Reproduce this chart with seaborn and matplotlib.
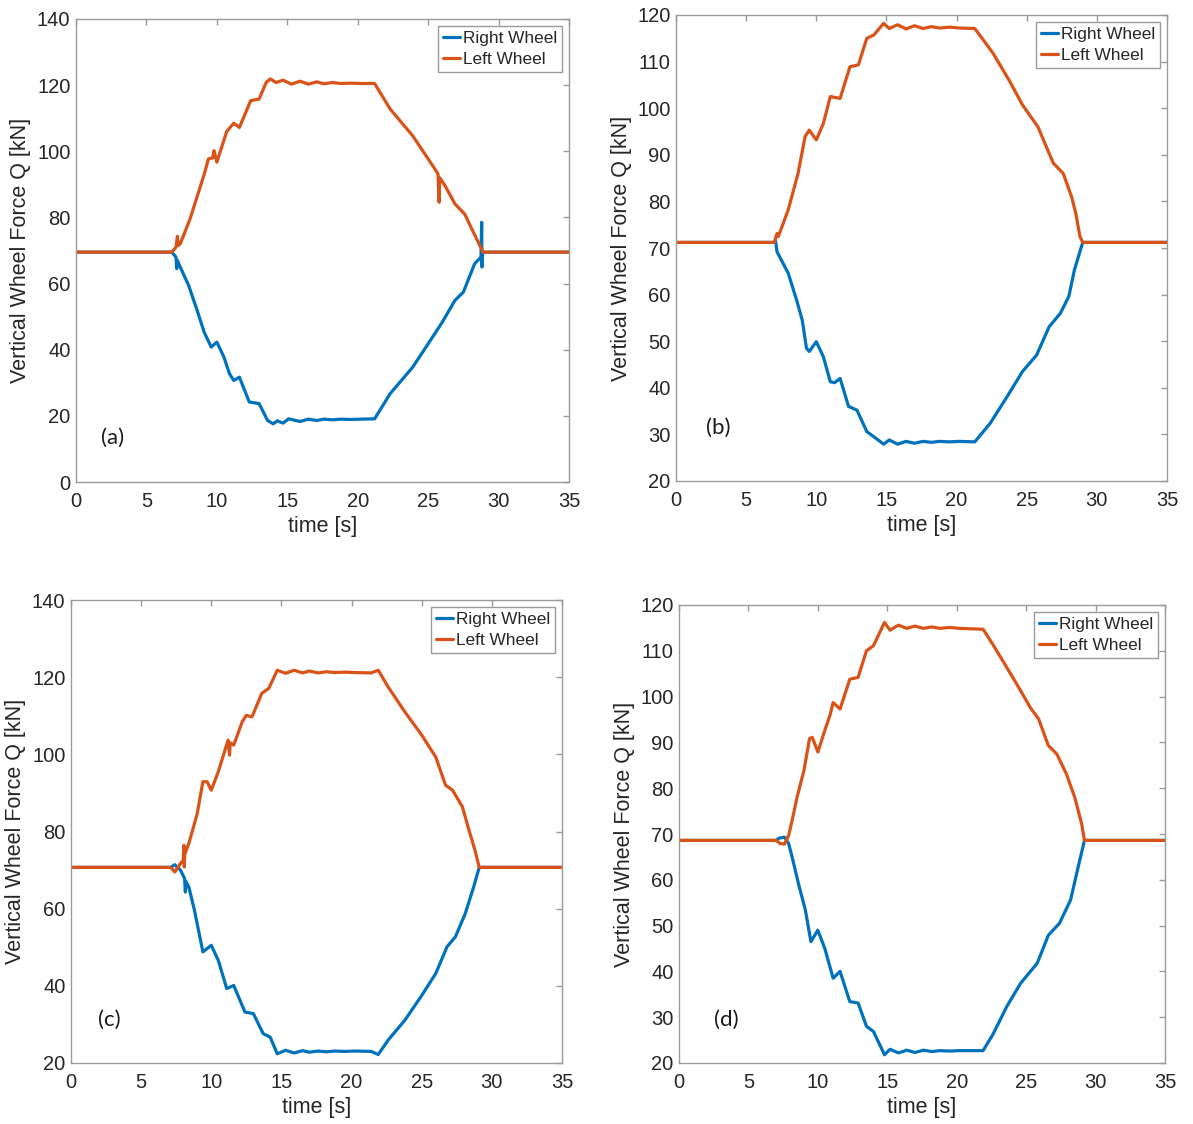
import numpy as np
import pandas as pd
import matplotlib
matplotlib.use("Agg")
import matplotlib.pyplot as plt
import seaborn as sns

# ---------------- data ----------------
# Panel (a)
t_a_right = [0, 6.8, 7.1, 7.15, 7.2, 7.4, 8.0, 8.6, 9.1, 9.6, 10.0, 10.5, 10.9, 11.2, 11.6, 12.3, 13.0, 13.6, 14.0, 14.3,
             14.7, 15.1, 15.9, 16.5, 17.1, 17.6, 18.2, 18.8, 19.5, 20.2, 21.2, 22.3, 23.9, 25.0, 26.0, 26.9, 27.5, 28.3,
             28.75, 28.8, 28.82, 28.85, 28.9, 35]
q_a_right = [69.5, 69.5, 68, 64.5, 67, 65, 59.4, 51.9, 45.3, 40.8, 42.3, 37.8, 32.7, 30.7, 31.7, 24.2, 23.7, 18.6, 17.6, 18.5,
             17.8, 19.1, 18.3, 19.0, 18.6, 19.0, 18.8, 19.0, 18.9, 19.0, 19.1, 26.7, 34.7, 41.8, 48.3, 54.9, 57.4, 66,
             68, 78.5, 65, 68.5, 69.5, 69.5]
t_a_left = [0, 6.8, 7.1, 7.2, 7.25, 7.4, 8.1, 9.1, 9.4, 9.7, 9.8, 10.0, 10.7, 11.2, 11.6, 12.4, 13.0, 13.5, 13.8, 14.2, 14.7,
            15.3, 15.9, 16.5, 17.1, 17.6, 18.2, 18.8, 19.5, 20.2, 21.2, 22.3, 23.9, 25.0, 25.7, 25.78, 25.82, 26.2, 26.9,
            27.6, 28.1, 28.5, 28.9, 35]
q_a_left = [69.5, 69.5, 71, 74.3, 71.5, 72, 79.6, 93, 97.7, 98, 100.2, 96.7, 106, 108.5, 107.2, 115.3, 115.8, 120.8, 121.9,
            120.8, 121.5, 120.3, 121.2, 120.3, 121, 120.4, 120.8, 120.5, 120.6, 120.5, 120.5, 112.8, 104.7, 97.7, 93.2,
            84.6, 92, 89.6, 84.1, 81, 76.5, 73, 69.5, 69.5]

# Panel (b)
t_b_right = [0, 7.0, 7.1, 7.2, 8.0, 8.6, 9.0, 9.3, 9.5, 10.0, 10.5, 11.0, 11.3, 11.7, 12.3, 12.9, 13.6, 14.1, 14.8, 15.2,
             15.8, 16.4, 17.0, 17.6, 18.2, 18.8, 19.5, 20.2, 21.3, 22.4, 23.6, 24.7, 25.7, 26.6, 27.4, 28.0, 28.4, 28.9,
             29.0, 35]
q_b_right = [71.2, 71.2, 71.5, 69.2, 64.6, 58.8, 54.5, 48.5, 47.8, 49.9, 46.7, 41.3, 41.1, 42, 36, 35.2, 30.6, 29.5, 27.9,
             28.8, 27.9, 28.5, 28.1, 28.5, 28.3, 28.5, 28.4, 28.5, 28.4, 32.4, 38.1, 43.5, 47, 53.1, 56, 59.6, 65.3,
             70.3, 71.2, 71.2]
t_b_left = [0, 7.0, 7.2, 7.3, 8.0, 8.7, 9.2, 9.5, 10.0, 10.5, 11.0, 11.7, 12.4, 13.0, 13.6, 14.1, 14.8, 15.2, 15.8, 16.4,
            17.0, 17.6, 18.2, 18.8, 19.5, 20.2, 21.3, 22.6, 23.8, 24.7, 25.8, 26.4, 26.9, 27.6, 28.2, 28.5, 28.8, 29.0, 35]
q_b_left = [71.2, 71.2, 73.1, 72.5, 78.2, 86, 93.9, 95.3, 93.2, 96.7, 102.5, 102.1, 108.9, 109.3, 115, 115.7, 118.2, 117.1,
            117.9, 117.0, 117.7, 117.1, 117.5, 117.2, 117.4, 117.2, 117.1, 111.8, 105.7, 100.7, 96, 91.7, 88.2, 86, 81,
            77.4, 72.4, 71.2, 71.2]

# Panel (c)
t_c_right = [0, 7.1, 7.4, 7.8, 8.1, 8.15, 8.2, 8.4, 8.8, 9.4, 10.0, 10.5, 11.1, 11.6, 12.4, 13.0, 13.7, 14.2, 14.7, 15.3,
             15.9, 16.5, 17.0, 17.6, 18.2, 18.8, 19.5, 20.2, 21.4, 21.9, 22.6, 23.8, 25.0, 26.0, 26.8, 27.4, 28.1, 28.7,
             29.1, 35]
q_c_right = [70.7, 70.7, 71.4, 70, 67.8, 64.3, 67, 65.6, 59.6, 48.8, 50.5, 46.6, 39.3, 40.1, 33.2, 32.8, 27.6, 26.7, 22.4,
             23.3, 22.6, 23.2, 22.8, 23.1, 22.9, 23.1, 23.0, 23.1, 23.0, 22.2, 25.9, 31.1, 37.5, 43.2, 50.1, 52.7, 58.7,
             65.6, 70.7, 70.7]
t_c_left = [0, 7.1, 7.4, 7.8, 8.0, 8.05, 8.08, 8.1, 8.4, 9.0, 9.4, 9.7, 10.0, 10.5, 10.9, 11.2, 11.3, 11.35, 11.6, 12.2,
            12.5, 12.9, 13.6, 14.1, 14.7, 15.3, 15.9, 16.5, 17.0, 17.6, 18.2, 18.8, 19.5, 20.2, 21.4, 21.9, 22.6, 23.8,
            25.0, 26.0, 26.7, 27.2, 27.9, 28.3, 28.8, 29.1, 35]
q_c_left = [70.7, 70.7, 69.5, 71.7, 72.5, 76.4, 70.8, 74, 76.9, 84.7, 92.9, 92.9, 90.7, 95.5, 100.2, 103.7, 99.8, 103,
            102.4, 108.4, 110.1, 109.7, 115.8, 117.1, 121.8, 121, 121.8, 121.1, 121.6, 121.1, 121.4, 121.2, 121.3,
            121.2, 121.1, 121.8, 117.5, 111, 105, 99.3, 92, 90.7, 86.4, 81.2, 75.1, 70.7, 70.7]

# Panel (d)
t_d_right = [0, 7.0, 7.2, 7.6, 7.9, 8.2, 8.6, 9.1, 9.5, 10.0, 10.5, 11.1, 11.6, 12.3, 12.9, 13.5, 14.0, 14.8, 15.2, 15.8,
             16.4, 17.0, 17.6, 18.2, 18.8, 19.5, 20.2, 21.9, 22.6, 23.6, 24.6, 25.8, 26.6, 27.4, 28.2, 28.8, 29.2, 35]
q_d_right = [68.6, 68.6, 69.1, 69.3, 67.9, 64.3, 59.2, 53.4, 46.5, 49, 45, 38.5, 40, 33.4, 33.1, 28, 26.9, 21.8, 23, 22.2,
             22.8, 22.3, 22.8, 22.5, 22.7, 22.6, 22.7, 22.7, 26.2, 32.3, 37.4, 41.8, 47.9, 50.5, 55.6, 63.5, 68.6, 68.6]
t_d_left = [0, 7.0, 7.3, 7.6, 7.9, 8.2, 8.5, 9.0, 9.4, 9.6, 10.0, 10.5, 10.9, 11.1, 11.6, 12.3, 12.9, 13.5, 14.0, 14.8,
            15.2, 15.8, 16.4, 17.0, 17.6, 18.2, 18.8, 19.5, 20.2, 21.9, 22.6, 23.6, 24.6, 25.3, 25.9, 26.6, 27.2, 27.9,
            28.5, 29.0, 29.2, 35]
q_d_left = [68.6, 68.6, 67.9, 67.8, 69.7, 73.7, 78, 83.9, 90.8, 91.1, 87.9, 92.6, 96.2, 98.7, 97.3, 103.8, 104.2, 110,
            111.1, 116.2, 114.5, 115.6, 114.9, 115.4, 114.9, 115.2, 114.9, 115.1, 114.9, 114.7, 111.4, 106.4, 101.3,
            97.6, 95.1, 89.3, 87.5, 83.1, 78, 72.2, 68.6, 68.6]

series_names = ["Right Wheel", "Left Wheel"]
panel_labels = ["(a)", "(b)", "(c)", "(d)"]
y_limits = [(0, 140), (20, 120), (20, 140), (20, 120)]
y_steps = [20, 10, 20, 10]
x_ticks = [0, 5, 10, 15, 20, 25, 30, 35]
x_label = "time [s]"
y_label = "Vertical Wheel Force Q [kN]"

panels = [
    (t_a_right, q_a_right, t_a_left, q_a_left),
    (t_b_right, q_b_right, t_b_left, q_b_left),
    (t_c_right, q_c_right, t_c_left, q_c_left),
    (t_d_right, q_d_right, t_d_left, q_d_left),
]

# ---------------- style ----------------
sns.set_theme(style="white")
plt.rcParams["font.family"] = ["Liberation Sans", "DejaVu Sans"]
text_col = "#262626"
spine_col = "#9a9a9a"
palette = {"Right Wheel": "#0072BD", "Left Wheel": "#D95319"}

fig = plt.figure(figsize=(11.93, 11.24), dpi=100)
W, H = 1193, 1124
boxes_px = [(76, 19, 569, 482), (676, 15, 1167, 481), (71, 600, 562, 1063), (679, 605, 1165, 1063)]
label_pos = [(0.075, 0.095), (0.086, 0.114), (0.079, 0.093), (0.097, 0.094)]

for i, (tr, qr, tl, ql) in enumerate(panels):
    l, t, r, b = boxes_px[i]
    ax = fig.add_axes([l / W, 1 - b / H, (r - l) / W, (b - t) / H])
    df = pd.concat([
        pd.DataFrame({"time": tr, "Q": qr, "wheel": series_names[0]}),
        pd.DataFrame({"time": tl, "Q": ql, "wheel": series_names[1]}),
    ], ignore_index=True)
    sns.lineplot(data=df, x="time", y="Q", hue="wheel", hue_order=series_names, palette=palette,
                 sort=False, estimator=None, linewidth=2.3, ax=ax)
    ax.set_xlim(0, 35)
    ax.set_ylim(*y_limits[i])
    ax.set_xticks(x_ticks)
    ax.set_yticks(np.arange(y_limits[i][0], y_limits[i][1] + 0.1, y_steps[i]))
    ax.set_xlabel(x_label, fontsize=15.5, color=text_col, labelpad=4)
    ax.set_ylabel(y_label, fontsize=15.5, color=text_col, labelpad=4)
    ax.tick_params(direction="in", length=4, width=1, color=spine_col, top=True, right=True,
                   labelsize=14.5, labelcolor=text_col)
    ax.tick_params(axis="x", pad=7)
    ax.tick_params(axis="y", pad=4)
    for s in ax.spines.values():
        s.set_visible(True)
        s.set_color(spine_col)
        s.set_linewidth(1.0)
    leg = ax.legend(loc="upper right", fontsize=12.4, handlelength=1.0, handletextpad=0.15,
                    borderpad=0.3, labelspacing=0.35, borderaxespad=0.4, fancybox=False,
                    framealpha=1, edgecolor=spine_col, title=None)
    leg.get_frame().set_linewidth(1.0)
    for txt in leg.get_texts():
        txt.set_color(text_col)
    ax.text(label_pos[i][0], label_pos[i][1], panel_labels[i], transform=ax.transAxes,
            ha="center", va="center", fontsize=16, family=["Lato", "DejaVu Sans"], color="#1a1a1a")

fig.savefig("out.png", dpi=100)
